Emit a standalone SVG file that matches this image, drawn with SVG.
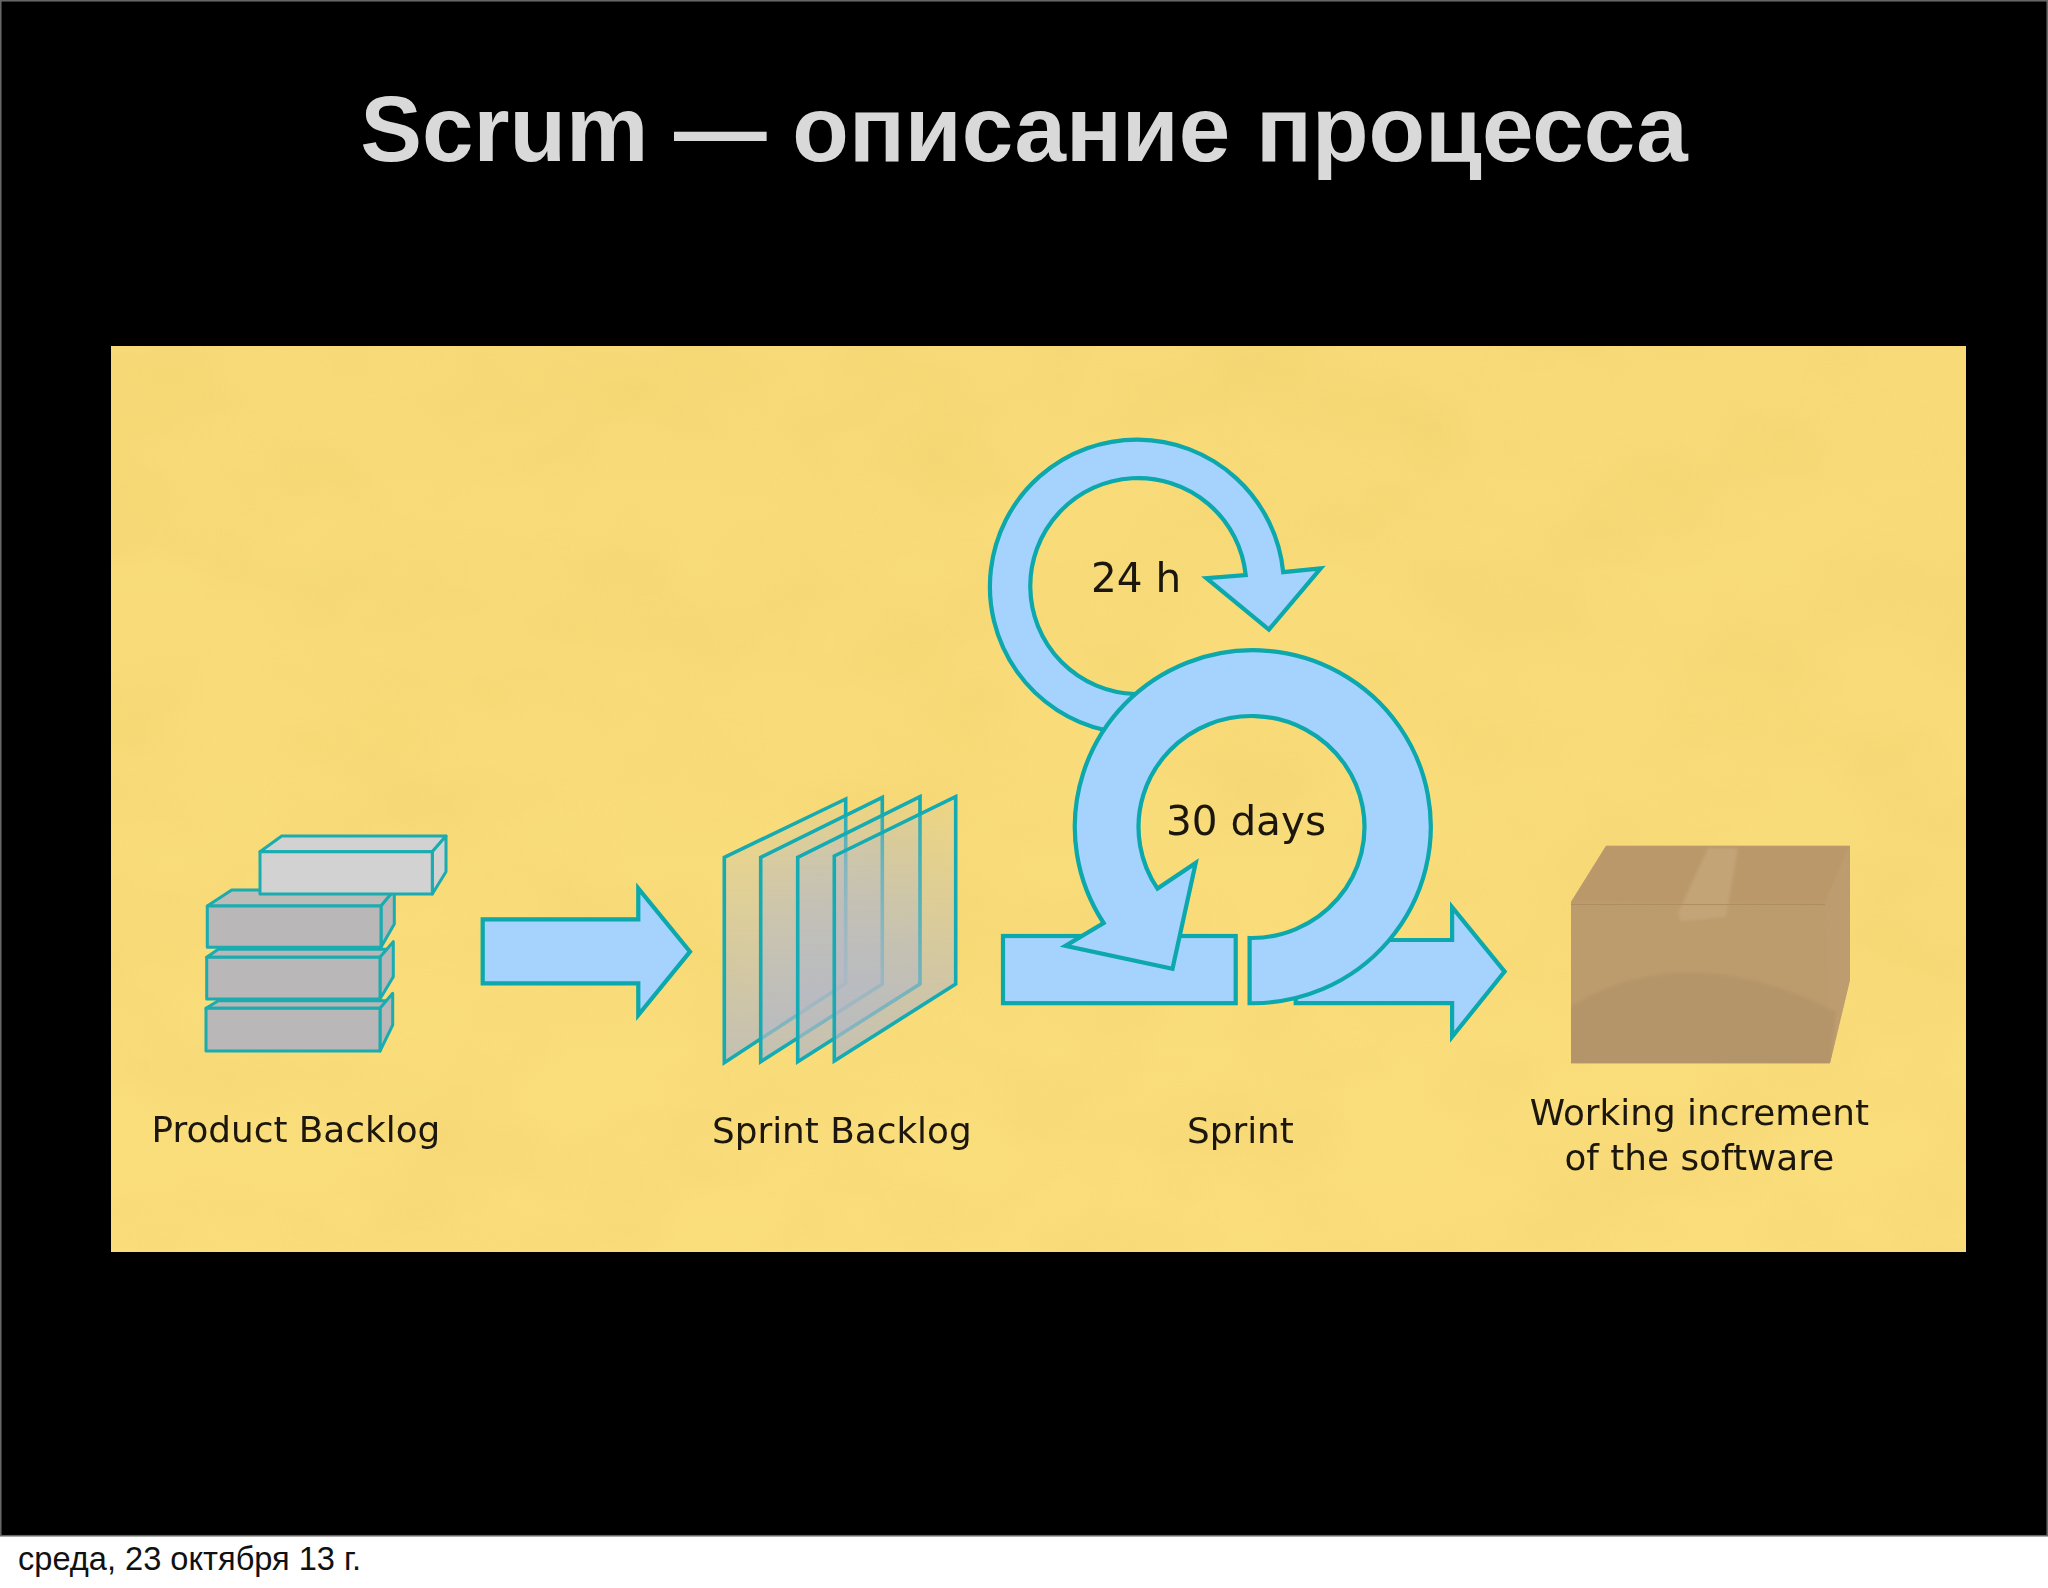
<svg xmlns="http://www.w3.org/2000/svg" width="2048" height="1588" viewBox="0 0 2048 1588">
<style>
.flow{fill:#a6d2fe;stroke:#08a8ab;stroke-width:4.2;stroke-linejoin:miter}
.brick{fill:#b9b7b7;stroke:#1aacb0;stroke-width:3;stroke-linejoin:round}
.brick.top{fill:#bcbcb8}
.light{fill:#d2d2d2}
.sheet{fill:url(#sheetFill);stroke:#12abb2;stroke-width:3.6;stroke-linejoin:miter}
.label{font-family:"DejaVu Sans",sans-serif;font-size:35.8px;fill:#1a1710}
.label.big{font-size:40.5px}
.label.mid{text-anchor:middle}
</style>
<defs>
<linearGradient id="sheetFill" x1="0" y1="0" x2="0" y2="1">
<stop offset="0" stop-color="#b8bcc4" stop-opacity="0.16"/>
<stop offset="1" stop-color="#b4b8c4" stop-opacity="0.78"/>
</linearGradient>
<linearGradient id="paperTone" x1="0" y1="0" x2="0" y2="1">
<stop offset="0" stop-color="#f8da78"/>
<stop offset="1" stop-color="#fbde7c"/>
</linearGradient>
<filter id="paper" x="0" y="0" width="1" height="1" color-interpolation-filters="sRGB">
<feTurbulence type="fractalNoise" baseFrequency="0.006 0.009" numOctaves="3" seed="7"/>
<feColorMatrix type="matrix" values="0 0 0 0 0.9  0 0 0 0 0.78  0 0 0 0 0.38  1.1 0 0 0 -0.42"/>
</filter>
<filter id="soft" x="-5%" y="-5%" width="110%" height="110%"><feGaussianBlur stdDeviation="0.6"/></filter>
<filter id="softer" x="-10%" y="-10%" width="120%" height="120%"><feGaussianBlur stdDeviation="1.6"/></filter>
<clipPath id="boxClip"><path d="M1571 901.7L1606 845.7H1850V980L1830 1063.3H1571Z"/></clipPath>
</defs>
<rect x="0" y="0" width="2048" height="1588" fill="#ffffff"/>
<rect x="0.75" y="0.75" width="2046.5" height="1535" fill="#000000" stroke="#666666" stroke-width="1.6"/>
<text id="title" x="1024" y="161" text-anchor="middle" font-family="'Liberation Sans',Arial,sans-serif" font-weight="700" font-size="92.6" fill="#d9d9d9">Scrum — описание процесса</text>
<g id="panel">
<rect x="111" y="346" width="1855" height="906" fill="url(#paperTone)"/>
<rect x="111" y="346" width="1855" height="906" filter="url(#paper)" opacity="0.4"/>
</g>
<g filter="url(#soft)">
<g id="product-backlog">
<path class="brick" d="M206 1008.3L218.3 1000.7H388L380 1008.3Z"/>
<path class="brick" d="M380 1008.3L392.7 993.3V1025L380 1051Z"/>
<rect class="brick" x="206" y="1008.3" width="174" height="42.7"/>
<path class="brick" d="M206.7 957.3L218.3 949.3H388L380 957.3Z"/>
<path class="brick" d="M380 957.3L393.3 941.7V976.7L380 999Z"/>
<rect class="brick" x="206.7" y="957.3" width="173.3" height="41.7"/>
<path class="brick top" d="M207.3 906L231.7 890H394.3L381 906Z"/>
<path class="brick" d="M381 906L394.3 890V924L381 947.3Z"/>
<rect class="brick" x="207.3" y="906" width="173.7" height="41.3"/>
<path class="brick light" d="M260 851.7L281.7 836H446L432.3 851.7Z"/>
<path class="brick light" d="M432.3 851.7L446 836V871.7L432.3 894Z"/>
<rect class="brick light" x="260" y="851.7" width="172.3" height="42.3"/>
<text class="label" x="151.5" y="1141.7">Product Backlog</text>
</g>
<g id="sprint-backlog">
<path class="sheet" d="M724.3 857.3L845.7 799V983.3L724.3 1062.7Z"/>
<path class="sheet" d="M760.7 857.3L882.3 797.3V984L760.7 1061.7Z"/>
<path class="sheet" d="M797.7 857.3L920 796.7V984L797.7 1061.7Z"/>
<path class="sheet" d="M834.3 856L955.7 796.7V984L834.3 1061Z"/>
<text class="label" x="712" y="1143">Sprint Backlog</text>
</g>
<g id="connectors">
<path class="flow" d="M482.7 919.3H638.3V888.3L690 951.7L638.3 1015V983.3H482.7Z"/>
<path class="flow" d="M1295.7 940H1452.1V907.1L1504.6 971.6L1452.1 1036.8V1003.2H1295.7Z"/>
</g>
<g id="daily-loop">
<path class="flow" d="M1104.6 730A147 147 0 1 1 1283.2 572.2L1320.7 568.3L1268.9 629.6L1206.4 578.2L1245.7 575A108 108 0 1 0 1135 694L1104.6 730Z"/>
<text class="label big" x="1091" y="592">24 h</text>
</g>
<g id="sprint">
<rect class="flow" x="1003" y="936" width="232.7" height="67.2"/>
<path class="flow" d="M1249.6 1003.2V938A113 111 0 1 0 1157.5 888.6L1195.7 862.9L1172.5 968.8L1065.4 945.9L1103.6 923A178 176.5 0 1 1 1249.6 1003.2Z"/>
<text class="label big" x="1166" y="835.2">30 days</text>
<text class="label" x="1187" y="1143">Sprint</text>
</g>
<g id="working-increment">
<path d="M1571 901.7L1606 845.7H1850V980L1830 1063.3H1571Z" fill="#bc9b6d"/>
<g clip-path="url(#boxClip)">
<path d="M1571 901.7L1606 845.7H1850L1825 904Z" fill="#ba986a" filter="url(#softer)"/>
<path d="M1825 904L1850 845.7V980L1830 1063.3Z" fill="#bd9d70" filter="url(#softer)"/>
<path d="M1565 1010C1640 962 1730 958 1836 1012L1830 1072H1565Z" fill="#b4956a" filter="url(#softer)"/>
<path d="M1708 848H1738L1726 917L1680 922L1678 913Z" fill="#c2a477" filter="url(#softer)"/>
</g>
<path d="M1571 904.5H1825" stroke="#ad8e62" stroke-width="1.2" fill="none"/>
<text class="label mid" x="1699.3" y="1125">Working increment</text>
<text class="label mid" x="1699.3" y="1170">of the software</text>
</g>
</g>
<text id="footer" x="18" y="1570" font-family="'Liberation Sans',Arial,sans-serif" font-size="32.6" fill="#111111">среда, 23 октября 13 г.</text>
</svg>
